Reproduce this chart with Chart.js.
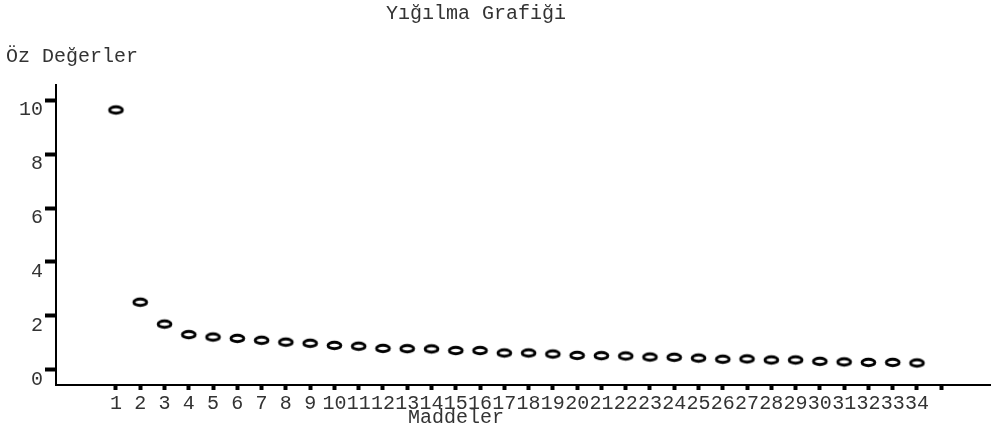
<!DOCTYPE html>
<html>
<head>
<meta charset="utf-8">
<script src="https://cdn.jsdelivr.net/npm/chart.js@4"></script>
<style>
  body { margin: 0; background: #fff; }
</style>
</head>
<body>
<canvas id="scree" width="991" height="432"></canvas>
<script>
// madde numaraları ve öz değerler
const items = [1, 2, 3, 4, 5, 6, 7, 8, 9, 10, 11, 12, 13, 14, 15, 16, 17,
    18, 19, 20, 21, 22, 23, 24, 25, 26, 27, 28, 29, 30, 31, 32, 33, 34];
const eigenValues = [9.63, 2.51, 1.70, 1.31, 1.22, 1.17, 1.10, 1.03, 0.99, 0.91,
    0.88, 0.80, 0.79, 0.78, 0.72, 0.72, 0.63, 0.63, 0.59, 0.54, 0.53, 0.52,
    0.48, 0.47, 0.44, 0.40, 0.41, 0.37, 0.37, 0.32, 0.30, 0.28, 0.28, 0.26];
const xTickValues = [1, 2, 3, 4, 5, 6, 7, 8, 9, 10, 11, 12, 13, 14, 15, 16, 17,
    18, 19, 20, 21, 22, 23, 24, 25, 26, 27, 28, 29, 30, 31, 32, 33, 34, 35];
const yTickValues = [0, 2, 4, 6, 8, 10];

const chartTitle = 'Yığılma Grafiği';
const yTitle = 'Öz Değerler';
const xTitle = 'Maddeler';

const FONT = '"Liberation Mono", "Courier New", monospace';
const TEXT = '#333';

// içi boş elips nokta
function ellipseMarker() {
    const c = document.createElement('canvas');
    c.width = 19; c.height = 13;
    const g = c.getContext('2d');
    g.strokeStyle = '#000';
    g.lineWidth = 2.9;
    g.beginPath();
    g.ellipse(9.5, 6.5, 6.4, 3.3, 0, 0, Math.PI * 2);
    g.stroke();
    return c;
}

// başlıklar
const textPlugin = {
    id: 'texts',
    afterDraw(chart) {
        const ctx = chart.ctx;
        ctx.save();
        ctx.fillStyle = TEXT;
        ctx.font = '20px ' + FONT;
        ctx.textBaseline = 'middle';
        ctx.textAlign = 'center';
        ctx.fillText(chartTitle, 476, 14);
        ctx.fillText(xTitle, 456, 418);
        ctx.textAlign = 'left';
        ctx.fillText(yTitle, 6, 57);
        ctx.restore();
    }
};

const data = items.map((x, i) => ({ x: x, y: eigenValues[i] }));

new Chart(document.getElementById('scree'), {
    type: 'scatter',
    data: {
        datasets: [{
            data: data,
            pointStyle: ellipseMarker(),
            pointRadius: 7
        }]
    },
    options: {
        responsive: false,
        animation: false,
        layout: { autoPadding: false, padding: { top: 85, left: 0, right: 0, bottom: 0 } },
        plugins: { legend: { display: false }, tooltip: { enabled: false } },
        scales: {
            x: {
                type: 'linear',
                min: -1.47,
                max: 37.05,
                afterBuildTicks: s => { s.ticks = xTickValues.map(v => ({ value: v })); },
                afterFit: s => { s.height = 47; s.paddingLeft = 0; s.paddingRight = 0; },
                border: { display: true, color: '#000', width: 2 },
                grid: { drawOnChartArea: false, drawTicks: true, tickLength: 5, tickWidth: 4, tickColor: '#000' },
                ticks: {
                    autoSkip: false,
                    maxRotation: 0,
                    padding: 2,
                    color: TEXT,
                    font: { family: FONT, size: 20 },
                    callback: v => (v <= 34 ? String(v) : '')
                }
            },
            y: {
                min: -0.556,
                max: 10.556,
                afterBuildTicks: s => { s.ticks = yTickValues.map(v => ({ value: v })); },
                afterFit: s => { s.width = 56; s.paddingTop = 0; s.paddingBottom = 0; },
                border: { display: true, color: '#000', width: 2 },
                grid: { drawOnChartArea: false, drawTicks: true, tickLength: 11, tickWidth: 4, tickColor: '#000' },
                ticks: {
                    padding: 2,
                    labelOffset: 10,
                    color: TEXT,
                    font: { family: FONT, size: 20 }
                }
            }
        }
    },
    plugins: [textPlugin]
});
</script>
</body>
</html>
